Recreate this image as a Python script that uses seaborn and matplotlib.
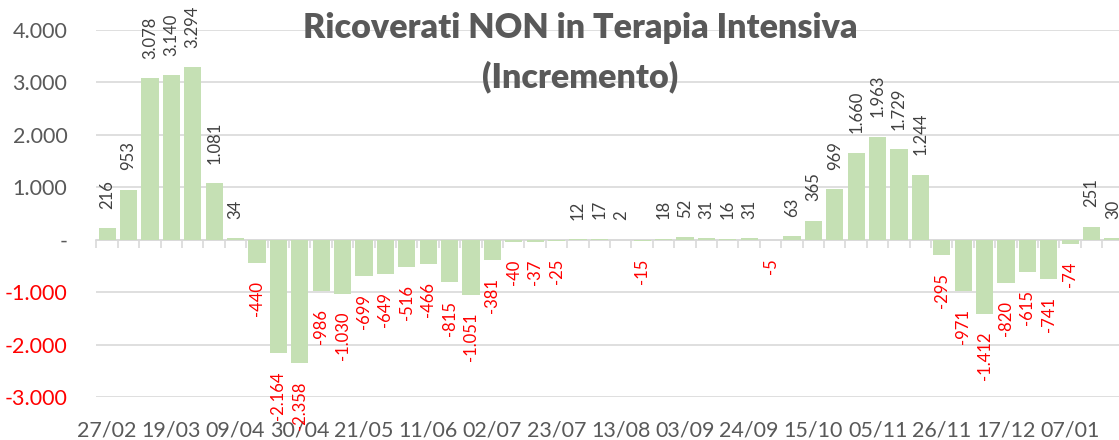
import matplotlib
matplotlib.use("Agg")
import matplotlib.pyplot as plt
import numpy as np
import seaborn as sns

weeks = ["27/02", "05/03", "12/03", "19/03", "26/03", "02/04", "09/04", "16/04",
         "23/04", "30/04", "07/05", "14/05", "21/05", "28/05", "04/06", "11/06",
         "18/06", "25/06", "02/07", "09/07", "16/07", "23/07", "30/07", "06/08",
         "13/08", "20/08", "27/08", "03/09", "10/09", "17/09", "24/09", "01/10",
         "08/10", "15/10", "22/10", "29/10", "05/11", "12/11", "19/11", "26/11",
         "03/12", "10/12", "17/12", "24/12", "31/12", "07/01", "14/01", "21/01"]
values = [216, 953, 3078, 3140, 3294, 1081, 34, -440, -2164, -2358, -986, -1030,
          -699, -649, -516, -466, -815, -1051, -381, -40, -37, -25, 12, 17,
          2, -15, 18, 52, 31, 16, 31, -5, 63, 365, 969, 1660, 1963, 1729,
          1244, -295, -971, -1412, -820, -615, -741, -74, 251, 30]
y_ticks = [-3000, -2000, -1000, 0, 1000, 2000, 3000, 4000]

title = "Ricoverati NON in Terapia Intensiva\n(Incremento)"
bar_color = "#C5E0B4"
grid_color = "#D9D9D9"
text_gray = "#595959"


def fmt(v):
    # Excel style: dot as thousands separator, dash for zero
    return "-" if v == 0 else f"{v:,}".replace(",", ".")


sns.set_style("white")
plt.rcParams["font.family"] = ["Lato", "DejaVu Sans"]

fig = plt.figure(figsize=(11.19, 4.4), dpi=100)
ax = fig.add_axes([0.0862, 0.0977, 0.918, 0.834])

sns.barplot(x=weeks, y=values, color=bar_color, saturation=1, width=0.8,
            linewidth=0, ax=ax, zorder=2)

ax.set_xlim(-0.5, len(weeks) - 0.5)
ax.set_ylim(-3000, 4000)
ax.set_yticks(y_ticks)
ax.set_yticklabels([fmt(t) for t in y_ticks])
for lab, t in zip(ax.get_yticklabels(), y_ticks):
    lab.set_color("red" if t < 0 else text_gray)
ax.tick_params(axis="y", length=0, pad=21, labelsize=15.5)

ax.set_xticks(range(0, len(weeks), 3))
ax.set_xticklabels(weeks[::3])
ax.tick_params(axis="x", length=0, pad=17, labelsize=15.5, labelcolor=text_gray)
ax.set_xlabel("")
ax.set_ylabel("")

ax.grid(axis="y", color=grid_color, linewidth=1.2, zorder=0)
ax.set_axisbelow(True)
for s in ax.spines.values():
    s.set_visible(False)

# category axis line at zero with boundary tick marks
zero_frac = 3000 / 7000
sec = ax.secondary_xaxis(zero_frac)
sec.set_xticks(np.arange(-0.5, len(weeks), 1.0))
sec.set_xticklabels([])
sec.tick_params(axis="x", direction="out", length=6, width=1.2, color=grid_color)
sec.spines["bottom"].set_color(grid_color)
sec.spines["bottom"].set_linewidth(1.2)

# data labels
for i, v in enumerate(values):
    if v >= 0:
        ax.annotate(fmt(v), (i, v), xytext=(0, 14), textcoords="offset points",
                    rotation=90, ha="center", va="bottom", fontsize=12,
                    color="#404040", annotation_clip=False)
    else:
        ax.annotate(fmt(v), (i, v), xytext=(0, -13), textcoords="offset points",
                    rotation=90, ha="center", va="top", fontsize=12,
                    color="red", annotation_clip=False)

fig.text(580 / 1119, 1 - 12 / 440, title, ha="center", va="top", fontsize=24.5,
         fontweight="heavy", color=text_gray, linespacing=1.6)

fig.savefig("out.png", dpi=100)
